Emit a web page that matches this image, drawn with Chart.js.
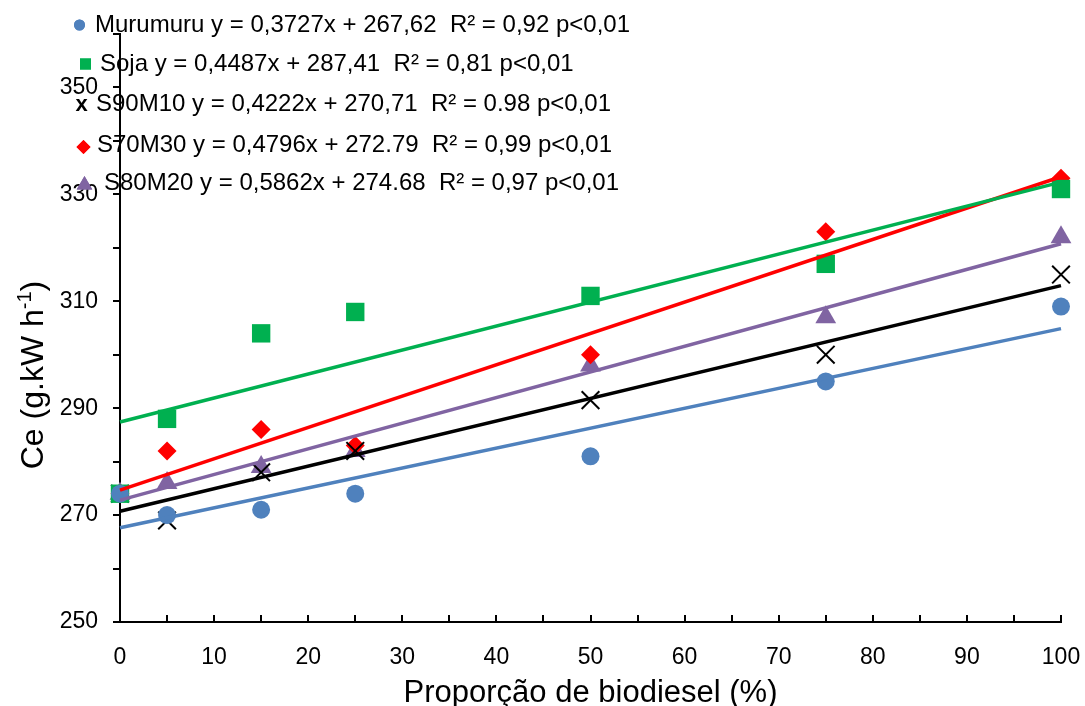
<!DOCTYPE html>
<html>
<head>
<meta charset="utf-8">
<script src="https://cdn.jsdelivr.net/npm/chart.js@4.4.1/dist/chart.umd.min.js"></script>
<style>
  html, body { margin: 0; padding: 0; background: #ffffff; }
  #wrap { width: 1085px; height: 706px; position: relative; }
</style>
</head>
<body>
<div id="wrap"><canvas id="c"></canvas></div>
<script>
// ---- Data ----
const xValues = [0, 5, 15, 25, 50, 75, 100];
const murumuru = [274, 270, 271, 274, 281, 295, 309];
const soja     = [274, 288, 304, 308, 311, 317, 331];
const s90m10   = [274, 269, 278, 282, 291.5, 300, 315];
const s70m30   = [274, 282, 286, 283, 300, 323, 333];
const s80m20   = [274, 276, 279, 282, 298, 307, 322];

// trend line end values at x = 0 and x = 100, as drawn in the picture
const trendX = [0, 100];
const murumuruTrend = [267.62, 304.89];
const sojaTrend     = [287.41, 332.28];
const s90m10Trend   = [270.71, 312.93];
const s70m30Trend   = [274.68, 333.30];
const s80m20Trend   = [272.79, 320.75];

const seriesNames = ['Murumuru', 'Soja', 'S90M10', 'S70M30', 'S80M20'];
const legendTexts = [
  'Murumuru y = 0,3727x + 267,62  R\u00B2 = 0,92 p<0,01',
  'Soja y = 0,4487x + 287,41  R\u00B2 = 0,81 p<0,01',
  'S90M10 y = 0,4222x + 270,71  R\u00B2 = 0.98 p<0,01',
  'S70M30 y = 0,4796x + 272.79  R\u00B2 = 0,99 p<0,01',
  'S80M20 y = 0,5862x + 274.68  R\u00B2 = 0,97 p<0,01'
];
const yTickLabels = [250, 270, 290, 310, 330, 350];
const xTickLabels = [0, 10, 20, 30, 40, 50, 60, 70, 80, 90, 100];
const xTitle = 'Propor\u00E7\u00E3o de biodiesel (%)';

// ---- Styles ----
const FONT = "'Liberation Sans', Arial, sans-serif";
const colors = ['#4F81BD', '#00B050', '#000000', '#FF0000', '#8064A2'];
const styles = ['circle', 'rect', 'crossRot', 'rectRot', 'triangle'];
const radii = [9, 13, 12.5, 9.5, 12];
const values = [murumuru, soja, s90m10, s70m30, s80m20];
const trends = [murumuruTrend, sojaTrend, s90m10Trend, s70m30Trend, s80m20Trend];

function toPts(xs, ys) { return xs.map((x, i) => ({ x: x, y: ys[i] })); }

const datasets = [];
values.forEach((v, i) => {
  datasets.push({
    label: seriesNames[i],
    data: toPts(xValues, v),
    showLine: false,
    pointStyle: styles[i],
    pointRadius: radii[i],
    backgroundColor: colors[i],
    borderColor: colors[i],
    borderWidth: styles[i] === 'crossRot' ? 2 : 0,
    clip: false,
    order: 1
  });
});
trends.forEach((t, i) => {
  datasets.push({
    label: seriesNames[i] + ' trend',
    data: toPts(trendX, t),
    showLine: true,
    pointRadius: 0,
    borderColor: colors[i],
    borderWidth: 3.5,
    fill: false,
    clip: false,
    order: 0
  });
});

const decorPlugin = {
  id: 'decor',
  afterDraw(chart) {
    const ctx = chart.ctx;
    const xs = chart.scales.x;
    const area = chart.chartArea;
    ctx.save();
    // inward x ticks
    ctx.strokeStyle = '#000';
    ctx.lineWidth = 2;
    xs.ticks.forEach(t => {
      const px = Math.round(xs.getPixelForValue(t.value));
      ctx.beginPath();
      ctx.moveTo(px, area.bottom);
      ctx.lineTo(px, area.bottom - 7);
      ctx.stroke();
    });
    // x title
    ctx.fillStyle = '#000';
    ctx.font = '31px ' + FONT;
    ctx.textAlign = 'center';
    ctx.textBaseline = 'alphabetic';
    ctx.fillText(xTitle, (area.left + area.right) / 2, 702);
    // y title with superscript
    ctx.save();
    ctx.translate(43, 375);
    ctx.rotate(-Math.PI / 2);
    ctx.textAlign = 'left';
    const main = 'Ce (g.kW h';
    const sup = '-1';
    const end = ')';
    ctx.font = '32px ' + FONT;
    const w1 = ctx.measureText(main).width;
    const w3 = ctx.measureText(end).width;
    ctx.font = '20px ' + FONT;
    const w2 = ctx.measureText(sup).width;
    let x0 = -(w1 + w2 + w3) / 2;
    ctx.font = '32px ' + FONT;
    ctx.fillText(main, x0, 0);
    ctx.font = '20px ' + FONT;
    ctx.fillText(sup, x0 + w1, -12);
    ctx.font = '32px ' + FONT;
    ctx.fillText(end, x0 + w1 + w2, 0);
    ctx.restore();

    // legend
    const rows = [
      { mx: 79.5, my: 25, tx: 95, ty: 32, r: 5.5 },
      { mx: 85.5, my: 64, tx: 100, ty: 71, r: 7.8 },
      { mx: 81.5, my: 104, tx: 96, ty: 111, r: 0 },
      { mx: 83.5, my: 147, tx: 97, ty: 152, r: 7 },
      { mx: 84.5, my: 185, tx: 104, ty: 190, r: 9 }
    ];
    rows.forEach((row, i) => {
      ctx.fillStyle = colors[i];
      ctx.strokeStyle = colors[i];
      if (styles[i] === 'crossRot') {
        ctx.fillStyle = '#000';
        ctx.font = 'bold 22px ' + FONT;
        ctx.textAlign = 'center';
        ctx.fillText('x', row.mx, row.ty);
      } else {
        Chart.helpers.drawPoint(ctx, { pointStyle: styles[i], radius: row.r, rotation: 0, borderWidth: 0 }, row.mx, row.my);
        ctx.fill();
      }
      ctx.fillStyle = '#000';
      ctx.font = '24px ' + FONT;
      ctx.textAlign = 'left';
      ctx.fillText(legendTexts[i], row.tx, row.ty);
    });
    ctx.restore();
  }
};

new Chart(document.getElementById('c'), {
  type: 'scatter',
  data: { datasets: datasets },
  options: {
    responsive: true,
    maintainAspectRatio: false,
    animation: false,
    layout: { padding: { top: 34, right: 24, left: 0, bottom: 0 } },
    plugins: { legend: { display: false }, tooltip: { enabled: false } },
    scales: {
      x: {
        type: 'linear',
        min: 0, max: 100,
        afterFit(scale) { scale.height = 84; scale.paddingRight = 0; scale.paddingLeft = 0; },
        border: { color: '#000', width: 2 },
        grid: { display: true, drawOnChartArea: false, drawTicks: false, color: 'rgba(0,0,0,0)' },
        ticks: {
          stepSize: 5,
          autoSkip: false,
          maxRotation: 0,
          padding: 22,
          color: '#000',
          font: { family: FONT, size: 23 },
          callback: (v) => xTickLabels.includes(v) ? String(v) : ''
        }
      },
      y: {
        type: 'linear',
        min: 250, max: 360,
        afterFit(scale) { scale.width = 120; scale.paddingTop = 0; scale.paddingBottom = 0; },
        border: { color: '#000', width: 2 },
        grid: { display: true, drawOnChartArea: false, drawTicks: true, tickLength: 7, color: '#000', lineWidth: 2 },
        ticks: {
          stepSize: 10,
          autoSkip: false,
          padding: 15,
          color: '#000',
          font: { family: FONT, size: 23 },
          callback: (v) => yTickLabels.includes(v) ? String(v) : ''
        }
      }
    }
  },
  plugins: [decorPlugin]
});
</script>
</body>
</html>
